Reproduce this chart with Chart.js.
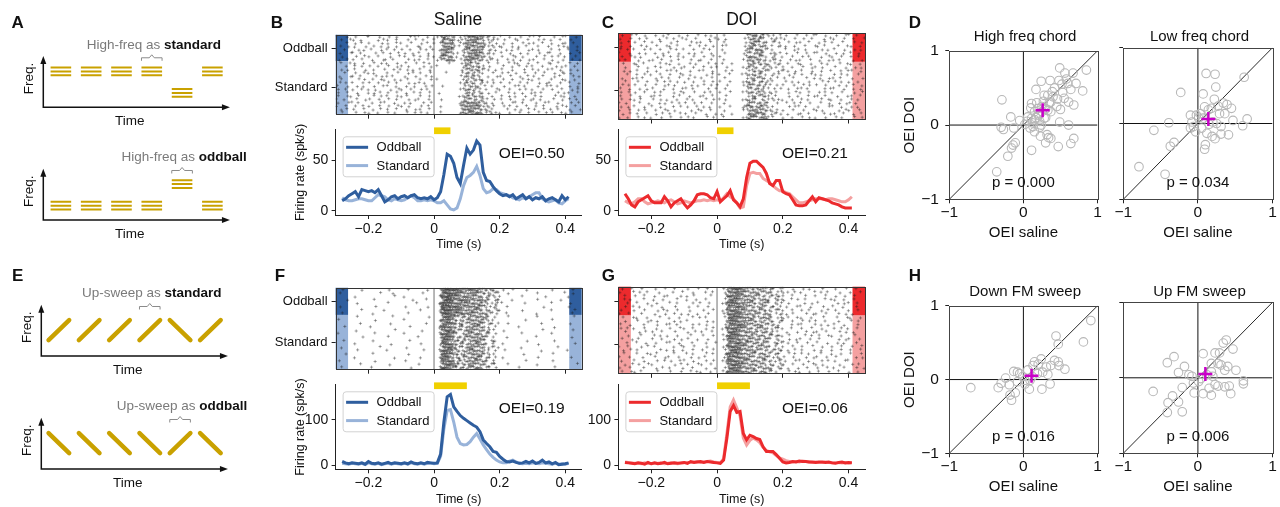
<!DOCTYPE html>
<html><head><meta charset="utf-8">
<script src="https://cdn.jsdelivr.net/npm/chart.js@4.4.1/dist/chart.umd.min.js"></script>
<style>
body{margin:0;background:#fff;}
#fig{position:relative;width:1280px;height:507px;overflow:hidden;font-family:'Liberation Sans',Arial,Helvetica,sans-serif;color:#111;}
#fig canvas{position:absolute;}
.lbl{position:absolute;white-space:nowrap;transform:translate(-50%,-50%);line-height:1;}
</style></head><body><div id="fig"></div>
<script>
// ---- data ----
const psthTime = [-0.28,-0.27,-0.26,-0.25,-0.24,-0.23,-0.22,-0.21,-0.2,-0.19,-0.18,-0.17,-0.16,-0.15,-0.14,-0.13,-0.12,-0.11,-0.1,-0.09,-0.08,-0.07,-0.06,-0.05,-0.04,-0.03,-0.02,-0.01,0,0.01,0.02,0.03,0.04,0.05,0.06,0.07,0.08,0.09,0.1,0.11,0.12,0.13,0.14,0.15,0.16,0.17,0.18,0.19,0.2,0.21,0.22,0.23,0.24,0.25,0.26,0.27,0.28,0.29,0.3,0.31,0.32,0.33,0.34,0.35,0.36,0.37,0.38,0.39,0.4,0.41];
const timeTicks = [-0.2, 0, 0.2, 0.4];

const salineChordOdd = [10,12,15,17,19,14,21,20,19,20, 18,21,15,9,11,14,15,12,14,15, 13,15,16,13,12,13,12,14,11,13, 19,36,56,54,47,33,27,45,62,56, 60,69,65,38,30,29,24,20,17,15, 16,14,16,12,14,16,12,14,11,13, 12,14,10,12,13,11,9,15,11,14];
const salineChordStd = [13,11,10,10,11,12,12,11,10,10, 13,16,15,14,11,10,12,11,10,11, 13,15,13,10,10,11,10,11,10,8, 8,10,6,2,1,3,12,25,33,35, 38,44,35,22,18,19,22,21,18,17, 16,15,13,12,11,13,12,14,16,18, 18,12,10,9,10,11,8,7,10,12];
const doiChordOdd = [17,12,6,4,9,11,13,15,10,8, 8,8,14,10,4,8,10,12,7,3, 6,10,16,17,17,16,13,12,19,9, 12,15,20,11,8,4,12,33,47,49, 49,46,43,37,27,25,30,30,19,17, 16,11,6,5,5,6,10,14,9,13, 12,11,10,8,7,6,4,3,3,3];
const doiChordStd = [10,8,7,9,12,12,9,7,8,9, 10,9,8,10,11,9,7,8,10,9, 8,9,10,10,11,10,11,10,11,10, 13,17,14,12,8,3,4,25,37,38, 37,37,32,30,28,25,22,20,20,18, 17,14,11,8,8,9,10,11,12,12, 12,11,12,12,11,10,9,9,11,14];
const salineFmOdd = [9,6,4,6,5,4,6,3,9,5, 4,6,3,5,7,4,6,5,4,6, 4,8,5,4,6,4,7,6,5,6, 25,95,150,155,128,118,109,103,98,93, 88,84,74,56,48,41,31,29,20,14, 9,8,10,7,5,6,9,6,10,5, 7,12,6,8,4,7,2,3,4,6];
const salineFmStd = [5,4,3,5,4,3,5,2,6,4, 3,5,2,4,5,3,5,4,3,5, 3,6,4,3,5,3,5,5,4,5, 20,80,120,122,95,62,48,45,46,52, 62,70,58,45,35,25,18,12,8,6, 6,10,12,8,5,4,5,4,6,5, 4,6,5,4,3,5,3,4,3,5];
const doiFmOdd = [7,6,5,4,6,5,3,7,4,6, 4,5,7,4,5,6,5,6,7,5, 9,7,8,9,7,9,8,7,6,5, 12,60,118,131,116,118,70,56,66,63, 59,57,41,31,31,31,24,16,8,6, 7,9,8,10,9,9,8,8,7,8, 8,7,8,6,5,7,8,6,7,6];
const doiFmStd = [8,7,6,5,5,4,6,5,4,5, 5,6,4,5,6,5,4,5,6,6, 7,8,9,7,8,9,10,8,7,6, 15,70,128,143,126,108,60,45,55,60, 56,50,40,33,30,28,22,17,14,11, 9,8,9,8,10,9,8,7,8,7, 7,8,7,6,6,7,6,7,6,7];

const oeiValues = [0.50, 0.21, 0.19, 0.06];
const stimChord = [0, 0.05];
const stimFm = [0, 0.1];
const bandSpans = [[-0.3, -0.262], [0.412, 0.45]];

// raster: one string per row of trials, 10 ms bins from -0.3 s
// '.' none, a..j one spike at that ms inside the bin, digit = spike count in bin
const rasterStart = -0.3, rasterBin = 0.01;
const rasterSalineChordOdd = [
"c..f. .b..h a..e. .d.g. ..i.b c..a. .a232 2b.a2 32323 b2.c. c..a. .e..b d.b.. .g..c a..d.",
".e..b a.d.. ..g.c e..b. .h..a .c..f ..323 2.ab2 23322 .c2.a .b..e a..c. .f.b. c..a. .d..h",
"b..g. .c.a. d...e .b.h. a..c. .e.b. b.232 3a.c2 32232 2.b.c .e..a ..d.b f..c. .a..e b.g..",
".a.e. c..h. .b.d. f..a. .c..g b..d. ..322 2.b.3 23223 .b2.e a..d. c.f.. .b..d ..e.a c..b.",
"d..b. ..f.a .c..e .a.d. g..b. .d.a. a.233 2c..2 22332 c.2.b ..f.b .a..d e.c.. .b.g. .d..a",
".c..g a.e.. ..b.d .f..a .a.e. c..b. ..232 2.a.b 32323 .2.a. d..b. .c.e. ..a.f b..d. .e..c",
"a.d.. .g..b e..c. ..a.h .d..b .a.f. b.322 3.b.2 23232 2.c.. .a..e b.d.. .f..a .c.b. a..e.",
".b.f. d..a. .c..g b.e.. ..c.a e..b. .a223 2b.c2 33222 .b2.d ..e.b .d..a c..f. .a..d ..b.e"];
const rasterSalineChordStd = [
".c..a e..b. .d.g. b..e. .a..c .f.b. ....c ...b2 2b2c. .c..a ..e.b a..d. .c..g b.e.. .a.d.",
"b..e. .a.c. g..b. .d..a c.e.. ..b.d .a... ....2 b2c2a c.b.. .d..a .b.e. a..c. ..f.b d..a.",
".d.b. c..g. .a..e ..c.b .e.a. b..c. ..... ...a2 2c2b2 .a.c. b..d. ..a.f .c..b e..a. .b.c.",
"a..c. .f..b d.a.. .b..e ..g.a .c..d ....b ....b 2a2.c b..e. .c.a. e..b. .d..a ..c.g a.b..",
".b..f a.d.. ..c.a e.b.. .a..d ..e.b ..... ...b2 c2b2. .d..b a..c. .b.e. c..a. .g.b. ..d.a",
"c.a.. ..e.b .g..c a..d. b.c.. .a..e .b... ....c 2.2b2 a..c. .e..b ..d.a b.c.. .a..e c..b.",
".e.b. a..d. c..a. .b.f. ..d.b e.a.. ..... ...a2 b2c.2 .c.b. d..a. .c.e. ..b.d a..f. .c..b",
"b..d. .c.a. .e..b d..a. .c.g. ..b.a ..c.. ....b 2c2a. b.c.. .a..d e.b.. .d..a c.b.. .a.e.",
".a.c. e..b. b.d.. ..a.f c..b. .d.a. ..... ...c2 2b2.c .a..e b..c. .d.b. a..e. .c..b ..d.a",
"d..a. .b..e .c.a. e..b. .a.d. c..b. .a... ....2 c2.2b .b.d. ..c.a .e..b c.a.. ..d.b e..c.",
".c..b a.e.. ..b.d .a..c e.b.. .c..a ..... ...b2 2a2c2 c..b. .a.e. b..d. .c.a. ..e.b a..d.",
"b.e.. .d..a c..b. .a.e. ..c.b a..d. ..b.. ....c 2b2.2 .a.c. d..b. ..a.e b.c.. .d..a .b.c.",
".a..d c.b.. .e..a b..c. .d.a. ..b.e ..... ...22 3232b 2c.a. .b..d a.c.. .e..b c..a. ..b.d",
"c..b. .a.d. b..e. .c..a a.d.. .b.c. ..a.. ...23 2323c b2.b. .d.a. c..b. .a.d. ..e.b d..a.",
".d.a. b..c. .a.d. e..b. .c..a d..b. ..... ...32 3222b 2.c.. ..a.d .b.e. c..a. b.d.. .a..c",
"a.c.. .e..b d..a. .b.c. ..a.e .c.b. ..c.. ...22 23232 .b2.a b..c. .d..a ..b.e .c..a d.b.."];
const rasterDoiChordOdd = [
".c..a e..b. .d.g. b..e. .a..c .f.b. ..b.. ....2 23a2b 2.b.c .a..d ..c.e b..a. .d..c a.e..",
"b..e. .a.c. ..b.d .e..a c..b. ..d.a a.c.. ...b2 2b32. .c2.a b..d. .a.e. ..c.b a..d. .b..e",
".a.d. c..b. e..a. .c.b. ..e.a b..c. ..d.. ....a 232b2 c.2.b ..a.d e..b. .c.a. b..e. ..a.c",
"d..b. .e.a. .b..c a.d.. .c..b .a.d. .bc.. ...a2 3b22c .b.2. d..a. .c..e a.b.. .d..b c..a.",
".b.c. a..e. c..b. .d.a. b..d. .e.b. ..a.. ....2 2c32a 2.b.. .c..a b.d.. ..e.b .a..c ..d.b",
"a..d. .c.b. .a.e. b..c. .d.a. c..b. ..c.. ...b2 b223. .c2.a .a..d ..b.e c..a. .b.d. e..a.",
".e..b d.a.. ..c.a .b.e. a..c. .d..b .b... ....2 32b2c b.2.. a..c. .d.b. ..a.e c..b. .a.d.",
"c.a.. .b..d e..b. .a.c. ..b.e a..c. ..a.. ...a2 2b3c2 .b2.c ..d.a b..e. .c..a d.b.. .e..b"];
const rasterDoiChordStd = [
".b..e a.c.. ..d.b c..a. .e.b. ..a.c .c..b ....2 2b2a2 b.c2. .b..d a..c. .e.b. ..a.d c..b.",
"a.d.. .c..b .e.a. ..b.d c..a. .b.e. a..c. ...b2 b2c.2 .2.b. c..a. .d..b a.c.. .b..e ..d.a",
".c.a. b..d. .a..c e.b.. .d..a c..b. ..b.a ....c 2a2b2 c..b2 .a.d. b..e. .c..a ..b.d e..c.",
"d..b. .a.e. c..b. .b..d a.c.. ..d.a .a..c ...a2 c2b2. b.2.c ..e.a .c..b d.a.. .b.c. a..e.",
".a..c e.b.. .d.a. b..e. .c.b. a..d. ..c.. ....b 2b22c .b.c. d..a. ..b.e .c..a b.d.. .a..c",
"b.e.. .c..a ..b.d .a.c. e..b. .d..a .b..c ...c2 b2.2b 2.a.. .c.b. a..d. ..e.b .c.a. d..b.",
".d.b. a..c. .e..b c.a.. ..d.b .a.c. a..b. ...b2 2c2a2 .b.c. a..e. .d.b. c..a. ..b.d .e..a",
"c..a. .b.d. a..e. .d..b b.c.. ..a.d ..b.. ....2 b2c2. c.b.a .d..b c.a.. ..e.b a..c. .b.d.",
".a.e. d..b. .c.a. ..b.c a..d. .e.b. .a..c ...a2 2b2c2 .2.b. ..a.c e..b. .d.a. b..c. ..a.e",
"b..c. .a..e d.b.. .c.a. .b..d c..a. ..c.. ....b 2a22b b.c.. .e..a ..c.b a.d.. .b..c d..a.",
".e..a c.b.. .a.d. b..c. .d.a. ..b.e .b.a. ...c2 c2b.2 .a2.b c..d. .b.a. ..c.e a..b. .d.c.",
"a.c.. .d..b ..e.a .b.d. c..a. b..c. ..a.. ....2 2c2b2 b..c. .a.d. c..b. .e..a ..b.d c.a..",
".b.d. a..c. e..b. ..a.c .d..b .c.a. .b..c ...22 3b23c 2.b.. ..d.a b.c.. .a..e d..b. .c.a.",
"c..e. .b.a. .d..c a.b.. ..c.d b..a. ..c.. ...a2 23c22 b2.c. a..b. .d..e c.a.. ..b.c a..d.",
".a.b. d..c. .b.a. c..e. a..b. .d..c .a..b ....3 2323b .c2.a .b..d a.e.. ..c.b d..a. .b.e.",
"e..a. .c.b. a..d. .b..c .e.a. ..c.b ..b.. ...b2 32c23 2.b.. c..a. .b.d. a..c. .e.b. ..a.d"];
const rasterSalineFmOdd = [
"..c.. ...a. ..... .d... ..b.. ...a. ..355 44333 33232 2a2b. .b..a ...c. ..... .a... ..d..",
".a... ..... ...d. ..b.. ..... .c... ..454 34332 23322 a2.2b ..c.. ..... .b... ....e ..a..",
"..... .b... ..... ...c. .a... ..... ..545 43323 32223 .2a2. b.... ..a.. ....c ..... .b...",
"...b. ..... .c... ..... ...a. ..b.. ..355 33433 23232 2b.2a ...c. ..... .a... ...b. .....",
"..... ..a.. ..... .e... ..... b.... ..454 43332 32322 a2.b2 .a... ...b. ..... .c... ..a..",
".d... ..... ..b.. ..... .c... ...a. ..545 34323 32232 2.a2. ..b.. ..... ...d. ..... .a...",
"..... ...c. ..... a.... ..... .b... ..355 43432 22323 .2b.2 b.... ..c.. ..... .a... ...c.",
"..a.. ..... .d... ..... ..b.. ..... ..454 33342 33222 2a2.b ..a.. ..... .c... ..... ..b.."];
const rasterSalineFmStd = [
"..... .c... ..... ..a.. ..... ...b. ..344 32b2a 22322 2a.b. ..c.. ..... .a... ..... ..d..",
".b... ..... ..d.. ..... .a... ..... ..434 22a2b 23222 b2.a. ..... ...b. ..... .c... .....",
"..... ..a.. ..... .c... ..... ..b.. ..344 3b2a2 22232 .2b.a ..a.. ..... ..c.. ..... .a...",
"...c. ..... .a... ..... ...b. ..... ..443 32a2b 22322 2.a.b ..... .c... ..... ..b.. .....",
"..... .b... ..... ...a. ..... .c... ..344 2a2b2 32222 b2.a. .b... ..... ...a. ..... ..c..",
".a... ..... ..c.. ..... .b... ..... ..434 32b.2 22232 .2a.b ..... ..a.. ..... .b... .....",
"..... ...d. ..... .a... ..... b.... ..344 3a2b2 23222 2b.a. ..c.. ..... .b... ..... ..a..",
"..b.. ..... .a... ..... ..c.. ..... ..443 22a2b 22322 a.2b. ..... ...a. ..... .d... .....",
"..... .a... ..... ..b.. ..... .c... ..344 32b2a 22232 2a.b. .b... ..... ..a.. ..... ...c.",
".c... ..... ...a. ..... .b... ..... ..434 2a2b2 32222 .b2.a ..... .a... ..... ..c.. .....",
"..... ..b.. ..... .a... ..... ..d.. ..344 3b2a2 22322 2.a.b ..a.. ..... ...b. ..... .a...",
"...a. ..... .c... ..... ..b.. ..... ..443 32a2b 23222 b2.a. ..... ..c.. ..... .b... .....",
"..... .a... ..... ...c. ..... .b... ..344 2b2a2 22232 .2b.a .c... ..... ..a.. ..... ..b..",
".b... ..... ..a.. ..... .d... ..... ..434 3a2b2 22322 2a.b. ..... ...a. ..... .c... .....",
"..... ..c.. ..... .b... ..... a.... ..344 32b2a 32222 b.2a. ..b.. ..... .a... ..... ...d.",
"..a.. ..... .b... ..... ...c. ..... ..443 22a2b 22232 .2a.b ..... .b... ..... ..a.. ....."];
const rasterDoiFmOdd = [
".c..a ..b.. .d..c ..a.. .b..d ..a.. ..a34 44322 2b222 b2a.2 a..b. .c.a. ..b.. .a..d ..c..",
"a...c .b.d. ..a.. .c..b ..d.. .b.c. ..b43 43322 22b22 2a.b2 .b.c. a...d .c.b. ..a.. b..c.",
"..b.. d..a. .c..b a...c .a.b. ...d. ...44 34232 222b2 .2b2a c..a. ..b.. a..c. .d..b ..a..",
".d.a. ..c.. b..a. ..d.. c..b. .a... ..a34 43222 2a222 b.2a2 ..b.a .c... ..d.b c..a. .b...",
"b..c. .a..d ..b.. .a.c. ...b. c..a. ..b44 44232 22a22 2b.2. a.c.. ..b.d .a... ..c.b d..a.",
"..a.d .c... a..b. ..c.. .d..a ..b.. ...43 34322 2b222 .2a.b .a..c b..d. ..c.. a..b. ..d..",
".b... a..c. ..d.a b..c. ..a.. .c..b ..a34 43232 22b22 a2.2b c..b. .a.c. ..b.a .d... c..b.",
"c..b. ..a.. .b..d ..a.b .c..a ..d.. ..b43 44322 222a2 2b.a2 .b.a. ..c.d a..b. ..a.c .b..."];
const rasterDoiFmStd = [
".a..c b..d. ..c.. a..b. ..c.d .b... ..a44 44322 2b222 2a.b2 .c..a b..c. ..a.. .b..d a..c.",
"..d.. .a..c b.a.. ..c.b .a... ..c.a ...34 44232 22a22 .2b.2 a..b. .c.d. b..a. ..c.. .a.b.",
"b..a. ..c.. .d..b a.c.. ..b.a .d... ..b44 34322 222b2 b2.a. ..c.b a...d .b.c. a..b. ..d..",
".c.b. a..d. ..a.. .b..c d..a. ..b.c ..a43 44322 2a222 2.b2a c..a. .b..c ..d.. .a.c. b..a.",
"..a.. .d.b. c..a. ..b.. .a.c. b..d. ...44 43232 22b22 a2.b. .b..d ..a.c b..a. ..c.b .d...",
"a..d. ..b.. .c.a. b..c. ..d.. .a..b ..b34 44322 2b222 .2a2b a.c.. ..b.a .d..c b..a. ..c..",
".b..c .a... d..b. ..a.c .b..a ..c.. ..a44 34222 222a2 2b.2. ..a.b c..d. .a... ..b.c a..d.",
"..c.. b..a. .a..d c..b. ..a.. .d..c ...43 44232 22b22 b.2a2 .c..a ..b.. a..c. .d.b. ..a..",
"d..a. ..c.b .b... ..a.d a..c. ..b.. ..b44 43322 2a222 2b.a. b..c. .a..d ..c.. b..a. .d..c",
".a.c. b.... ..d.b .c..a ..b.. a..d. ..a34 44232 222b2 .2b2a .a.b. c...a .b..d ..c.. a..b.",
"..b.. .a..c c.a.. ..d.. .b.a. ..c.b ...44 34322 22a22 a2.2b ..d.a .b.c. ..a.. c..b. .a..d",
"b..c. ..d.. .a..b a..c. ..a.d .b... ..b43 44322 2b222 2.a2. c..b. ..a.d b..c. .a... ..c.b",
".c... a..b. ..b.d .d..a c..b. ..a.c ..a44 43232 222b2 b2.a2 .a..c d..b. ..c.a .b..d a....",
"..a.d .c..b b.... ..c.a .a..d c..b. ...34 44322 22a22 .2b.2 b..a. .c..d a.b.. ..d.. .c.a.",
"a..b. ..d.. .c.a. b...c ..b.. .d..a ..b44 34232 2a222 2a.2b .c..d ..a.. c..b. a..c. ..b.d",
".d..c b.a.. ..b.. .a..d ..c.a b..c. ..a43 44322 22b22 a2.b. ..b.a c..d. .a..c ..b.. d..a."];
const rasterRowLabels = ['Oddball', 'Standard'];

// scatter: [OEI saline, OEI DOI] per neuron
const hfChordPts = [[-0.29,0.34],[-0.17,0.11],[-0.30,-0.03],[-0.27,-0.06],[-0.13,-0.04],[-0.05,0.06],[-0.11,-0.24],[-0.14,-0.27],[-0.16,-0.31],[-0.21,-0.42],[-0.36,-0.63],[0.11,-0.34],[0.15,-0.09],[0.23,-0.15],[0.32,-0.13],[0.34,-0.17],[0.30,-0.24],[0.37,-0.18],[0.47,-0.29],[0.64,-0.25],[0.68,-0.18],[0.49,0.04],[0.24,0.59],[0.36,0.60],[0.17,0.48],[0.49,0.77],[0.56,0.70],[0.67,0.70],[0.71,0.56],[0.85,0.74],[0.80,0.46],[0.48,0.60],[0.60,0.56],[0.64,0.48],[0.53,0.44],[0.39,0.45],[0.46,0.35],[0.55,0.36],[0.61,0.31],[0.68,0.27],[0.50,0.21],[0.37,0.31],[0.33,0.40],[0.27,0.32],[0.11,0.29],[0.10,0.23],[0.15,0.18],[0.20,0.13],[0.11,0.09],[0.06,0.11],[0.15,0.07],[0.22,0.05],[0.28,0.09],[0.37,0.18],[0.45,0.25],[0.33,0.20],[0.13,-0.02],[0.22,-0.03],[0.09,-0.04],[0.02,0.01],[0.61,0.00],[0.25,0.18],[0.19,0.22],[0.20,0.15],[0.25,0.25],[0.30,0.22],[0.18,0.30],[0.35,0.30],[0.40,0.38],[0.28,0.40],[0.42,0.50],[0.52,0.55],[0.58,0.62],[0.12,0.03],[0.05,0.05],[0.17,0.10],[0.30,0.10],[0.24,0.00]];
const lfChordPts = [[-0.79,-0.57],[-0.59,-0.09],[-0.44,-0.67],[-0.37,-0.30],[-0.32,-0.25],[-0.39,0.01],[-0.23,0.41],[-0.10,0.11],[-0.08,0.02],[-0.06,-0.04],[-0.10,-0.06],[-0.02,0.11],[0.07,0.39],[0.11,0.66],[0.23,0.65],[0.24,0.48],[0.22,0.32],[0.09,0.22],[0.14,0.18],[0.18,0.20],[0.27,0.23],[0.34,0.27],[0.39,0.25],[0.45,0.20],[0.29,0.13],[0.36,0.13],[0.47,0.04],[0.60,-0.03],[0.66,0.06],[0.62,0.61],[0.41,-0.15],[0.31,-0.14],[0.23,-0.20],[0.19,-0.17],[0.12,-0.13],[0.05,-0.06],[0.10,-0.28],[0.09,-0.34],[0.01,0.07],[0.03,0.13],[0.07,0.07],[0.20,0.02],[0.25,0.00],[0.15,-0.01],[0.31,-0.04],[-0.03,-0.11]];
const downFmPts = [[-0.71,-0.11],[-0.34,-0.11],[-0.30,-0.05],[-0.24,0.02],[-0.19,-0.07],[-0.13,0.11],[-0.08,0.10],[-0.05,0.08],[-0.18,-0.21],[-0.16,-0.28],[-0.11,-0.18],[-0.08,-0.03],[-0.01,0.04],[0.06,0.13],[0.13,0.19],[0.20,0.21],[0.24,0.28],[0.15,0.24],[0.31,0.17],[0.37,0.19],[0.44,0.59],[0.47,0.48],[0.42,0.26],[0.47,0.24],[0.48,0.19],[0.56,0.14],[0.81,0.51],[0.91,0.80],[0.36,-0.06],[0.25,-0.13],[0.08,-0.13],[0.02,-0.06],[0.19,0.08],[0.33,0.07],[0.09,-0.01],[0.02,-0.01],[0.12,0.04],[0.26,0.10]];
const upFmPts = [[-0.60,-0.18],[-0.41,0.20],[-0.32,0.28],[-0.34,-0.24],[-0.40,-0.33],[-0.41,-0.46],[-0.21,-0.45],[-0.26,-0.32],[-0.21,-0.13],[-0.26,0.07],[-0.18,0.15],[-0.12,0.04],[-0.08,0.02],[-0.06,-0.07],[-0.05,-0.20],[0.07,0.32],[0.07,-0.21],[0.18,-0.23],[0.15,-0.14],[0.23,-0.09],[0.27,-0.11],[0.36,-0.12],[0.42,-0.11],[0.44,-0.21],[0.18,0.19],[0.23,0.33],[0.29,0.33],[0.34,0.46],[0.38,0.50],[0.47,0.38],[0.40,0.15],[0.51,0.10],[0.61,-0.04],[0.61,-0.08],[0.31,0.17],[0.27,0.19],[0.18,0.08],[0.12,0.04],[0.20,0.02],[0.04,-0.01],[0.01,-0.05],[0.36,0.10]];
const scatterMeans = [[0.26, 0.20], [0.14, 0.06], [0.11, 0.05], [0.10, 0.05]];
const pValues = [0.000, 0.034, 0.016, 0.006];
const scatterTitles = ['High freq chord', 'Low freq chord', 'Down FM sweep', 'Up FM sweep'];
const unityLine = [[-1, -1], [1, 1]];
const oeiTicks = [-1, 0, 1];

// schematic stimulus sequences
const toneOnsets = [0, 1, 2, 3, 4, 5];
const chordStdSeq = ['high', 'high', 'high', 'high', 'low', 'high'];
const chordOddSeq = ['low', 'low', 'low', 'low', 'high', 'low'];
const sweepStdSeq = ['up', 'up', 'up', 'up', 'down', 'up'];
const sweepOddSeq = ['down', 'down', 'down', 'down', 'up', 'down'];

// ---- styling / layout ----
const FONT = "'Liberation Sans', Arial, Helvetica, sans-serif";
Chart.defaults.font.family = FONT;
Chart.defaults.color = '#111';
const BLUE = '#2f5e9e', BLUE_L = '#98b3d9', RED = '#ec2a2d', RED_L = '#f4a0a0';
const GOLD = '#c9a100';
const fig = document.getElementById('fig');

function frameBox(a, m) {
    const x0 = Math.floor(a.l - m.l), y0 = Math.floor(a.t - m.t);
    const x1 = Math.ceil(a.r + m.r), y1 = Math.ceil(a.b + m.b);
    return {x: x0, y: y0, w: x1 - x0, h: y1 - y0, left: a.l - x0, top: a.t - y0, right: x1 - a.r, bottom: y1 - a.b};
}

function addCanvas(b) {
    const c = document.createElement('canvas');
    c.width = b.w; c.height = b.h;
    c.style.left = b.x + 'px'; c.style.top = b.y + 'px';
    c.style.width = b.w + 'px'; c.style.height = b.h + 'px';
    fig.appendChild(c);
    return c;
}

function addText(txt, x, y, size, extra) {
    const d = document.createElement('div');
    d.className = 'lbl';
    d.textContent = txt;
    d.style.left = x + 'px'; d.style.top = y + 'px'; d.style.fontSize = size + 'px';
    if (extra) Object.assign(d.style, extra);
    fig.appendChild(d);
}

const minus = v => (v < 0 ? '\u2212' : '') + Math.abs(v);
const setTicks = vals => s => { s.ticks = vals.map(v => ({value: v})); };
const tickGrid = {display: true, drawOnChartArea: false, drawTicks: true, tickLength: 4, tickWidth: 1, tickColor: '#222', color: '#222'};
const baseOpts = {responsive: false, animation: false, devicePixelRatio: 1, events: []};

function framePlugin(color) {
    return {id: 'frame', afterDatasetsDraw(chart) {
        const {ctx, chartArea: a} = chart;
        const l = Math.round(a.left) + 0.5, t = Math.round(a.top) + 0.5;
        ctx.save(); ctx.strokeStyle = color; ctx.lineWidth = 1;
        ctx.strokeRect(l, t, Math.round(a.right) - Math.round(a.left), Math.round(a.bottom) - Math.round(a.top));
        ctx.restore();
    }};
}

function bandsPlugin(spans, splitRow, dark, light) {
    return {id: 'bands', beforeDatasetsDraw(chart) {
        const {ctx, scales: {x, y}} = chart;
        ctx.save();
        spans.forEach(([t0, t1]) => {
            const x0 = x.getPixelForValue(t0), x1 = x.getPixelForValue(t1);
            const yt = y.getPixelForValue(y.min), ys = y.getPixelForValue(splitRow), yb = y.getPixelForValue(y.max);
            ctx.fillStyle = dark; ctx.fillRect(x0, yt, x1 - x0, ys - yt);
            ctx.fillStyle = light; ctx.fillRect(x0, ys, x1 - x0, yb - ys);
        });
        ctx.restore();
    }};
}

function stimPlugin(stim) {
    return {id: 'stim', afterDraw(chart) {
        const {ctx, chartArea: a, scales: {x}} = chart;
        const x0 = x.getPixelForValue(stim[0]), x1 = x.getPixelForValue(stim[1]);
        ctx.save(); ctx.fillStyle = '#f0d000';
        ctx.fillRect(x0, a.top - 2.4, x1 - x0, 6.7);
        ctx.restore();
    }};
}

function legendPlugin() {
    return {id: 'boxLegend', afterDraw(chart) {
        const {ctx, chartArea: a} = chart;
        const items = chart.data.datasets.filter(d => d.label);
        const x = a.left + 7, y = a.top + 6.5, w = 91, h = 40;
        ctx.save();
        ctx.beginPath();
        ctx.roundRect(x + 0.5, y + 0.5, w, h, 3);
        ctx.fillStyle = 'rgba(255,255,255,0.85)'; ctx.fill();
        ctx.strokeStyle = '#d2d2d2'; ctx.lineWidth = 1; ctx.stroke();
        ctx.font = '13px ' + FONT; ctx.textBaseline = 'middle'; ctx.textAlign = 'left';
        items.forEach((it, i) => {
            const yy = y + 11 + i * 18.3;
            ctx.strokeStyle = it.borderColor; ctx.lineWidth = 3;
            ctx.beginPath(); ctx.moveTo(x + 3.5, yy); ctx.lineTo(x + 25.5, yy); ctx.stroke();
            ctx.fillStyle = '#111'; ctx.fillText(it.label, x + 34, yy + 0.5);
        });
        ctx.restore();
    }};
}

function notesPlugin(items) {
    return {id: 'notes', afterDraw(chart) {
        const {ctx, chartArea: a, scales} = chart;
        ctx.save(); ctx.fillStyle = '#111'; ctx.textAlign = 'center'; ctx.textBaseline = 'middle';
        items.forEach(it => {
            ctx.font = it.font;
            const px = it.fx !== undefined ? a.left + it.fx * (a.right - a.left) : scales.x.getPixelForValue(it.x);
            const py = it.fy !== undefined ? a.top + it.fy * (a.bottom - a.top) : scales.y.getPixelForValue(it.y);
            ctx.fillText(it.text, px, py);
        });
        ctx.restore();
    }};
}

// decode the raster strings into spike marks; the small fixed shifts only keep
// rows from lining up into columns
function spikesFrom(rows) {
    const jitter = [-0.28, 0.22, 0.02, 0.34, -0.14];
    const rowShift = [0, 0.37, -0.21, 0.52, -0.44, 0.13, -0.3];
    const pts = [];
    rows.forEach((row, r) => {
        const sh = rowShift[r % rowShift.length] * rasterBin;
        row.split(' ').forEach((grp, gi) => {
            for (let ci = 0; ci < 5 && ci < grp.length; ci++) {
                const ch = grp[ci], j = gi * 5 + ci;
                if (ch === '.') continue;
                const t0 = rasterStart + j * rasterBin + sh;
                if (ch >= 'a' && ch <= 'j') {
                    pts.push({x: t0 + rasterBin * (ch.charCodeAt(0) - 97 + 0.5) / 10, y: r + 0.5 + jitter[(j + r) % 5] * 0.7});
                } else {
                    const n = +ch;
                    for (let k = 0; k < n; k++) pts.push({x: t0 + rasterBin * (k + 0.5) / n, y: r + 0.5 + jitter[(k + j + r) % 5]});
                }
            }
        });
    });
    return pts.filter(p => p.x > rasterStart && p.x < 0.45);
}

function rasterChart(area, oddRows, stdRows, dark, light, showLabels) {
    const nOdd = oddRows.length, nRows = oddRows.length + stdRows.length;
    const rowTicks = [nOdd / 2, nOdd + stdRows.length / 2];
    const b = frameBox(area, {l: 62, t: 10, r: 6, b: 7});
    new Chart(addCanvas(b), {
        type: 'scatter',
        data: {datasets: [
            {data: spikesFrom(oddRows.concat(stdRows)), pointStyle: 'cross', pointRadius: 1.6, pointBorderWidth: 0.9, borderWidth: 0.9, pointBorderColor: 'rgba(30,30,30,0.42)', borderColor: 'rgba(30,30,30,0.42)'},
            {type: 'line', data: [{x: 0, y: 0}, {x: 0, y: nRows}], borderColor: 'rgba(150,150,150,0.9)', borderWidth: 1.5, pointRadius: 0}
        ]},
        options: Object.assign({}, baseOpts, {
            layout: {padding: {left: 0, top: b.top, right: b.right, bottom: 0}},
            scales: {
                x: {type: 'linear', min: -0.3, max: 0.45, afterBuildTicks: setTicks(timeTicks), afterFit: s => { s.height = b.bottom; },
                    ticks: {display: false}, grid: Object.assign({}, tickGrid, {tickLength: 4.5}), border: {display: false}},
                y: {type: 'linear', min: 0, max: nRows, reverse: true, afterBuildTicks: setTicks(rowTicks), afterFit: s => { s.width = b.left; },
                    ticks: {display: showLabels, padding: 4, font: {size: 13}, callback: (v, i) => rasterRowLabels[i]},
                    grid: tickGrid, border: {display: false}}
            },
            plugins: {legend: {display: false}, tooltip: {enabled: false}}
        }),
        plugins: [bandsPlugin(bandSpans, nOdd, dark, light), framePlugin('#333')]
    });
}

function psthChart(area, yRange, yTicks, odd, std, colors, stim, oei, showTitle) {
    const b = frameBox(area, {l: 42.2, t: 10, r: 8, b: 37});
    const pts = vals => psthTime.map((t, i) => ({x: t, y: vals[i]}));
    new Chart(addCanvas(b), {
        type: 'line',
        data: {datasets: [
            {label: 'Oddball', data: pts(odd), borderColor: colors[0], borderWidth: 3, pointRadius: 0, tension: 0},
            {label: 'Standard', data: pts(std), borderColor: colors[1], borderWidth: 3, pointRadius: 0, tension: 0}
        ]},
        options: Object.assign({}, baseOpts, {
            layout: {padding: {left: 0, top: b.top, right: b.right, bottom: 0}},
            scales: {
                x: {type: 'linear', min: -0.3, max: 0.45, afterBuildTicks: setTicks(timeTicks), afterFit: s => { s.height = b.bottom; },
                    ticks: {padding: 1.6, font: {size: 14}, maxRotation: 0, callback: v => minus(v.toFixed(1)) },
                    grid: tickGrid, border: {display: true, color: '#222', width: 1},
                    title: {display: true, text: 'Time (s)', font: {size: 12.5}, padding: 0}},
                y: {type: 'linear', min: yRange[0], max: yRange[1], afterBuildTicks: setTicks(yTicks), afterFit: s => { s.width = b.left; },
                    ticks: {padding: 3.4, font: {size: 14}},
                    grid: tickGrid, border: {display: true, color: '#222', width: 1},
                    title: {display: showTitle, text: 'Firing rate (spk/s)', font: {size: 12.5}, padding: 0}}
            },
            plugins: {legend: {display: false}, tooltip: {enabled: false}}
        }),
        plugins: [stimPlugin(stim), legendPlugin(), notesPlugin([{text: 'OEI=' + oei.toFixed(2), fx: 0.797, fy: 0.28, font: '15.5px ' + FONT}])]
    });
}

function scatterChart(area, pts, mean, p, withY) {
    const b = frameBox(area, {l: withY ? 48.3 : 22, t: 12, r: 6, b: 42});
    const line = arr => arr.map(q => ({x: q[0], y: q[1]}));
    new Chart(addCanvas(b), {
        type: 'scatter',
        data: {datasets: [
            {data: [{x: mean[0], y: mean[1]}], pointStyle: 'cross', pointRadius: 7, pointBorderWidth: 2.5, borderWidth: 2.5, pointBorderColor: '#c800c8', borderColor: '#c800c8'},
            {data: line(pts), pointStyle: 'circle', pointRadius: 4.3, pointBorderWidth: 1.1, borderWidth: 1.1, pointBorderColor: '#b8b8b8', borderColor: '#b8b8b8', pointBackgroundColor: 'rgba(0,0,0,0)', backgroundColor: 'rgba(0,0,0,0)'},
            {type: 'line', data: line(unityLine), borderColor: '#111', borderWidth: 0.9, pointRadius: 0},
            {type: 'line', data: [{x: oeiTicks[0], y: 0}, {x: oeiTicks[2], y: 0}], borderColor: '#111', borderWidth: 1, pointRadius: 0},
            {type: 'line', data: [{x: 0, y: oeiTicks[0]}, {x: 0, y: oeiTicks[2]}], borderColor: '#111', borderWidth: 1, pointRadius: 0}
        ]},
        options: Object.assign({}, baseOpts, {
            layout: {padding: {left: 0, top: b.top, right: b.right, bottom: 0}},
            scales: {
                x: {type: 'linear', min: -1, max: 1, afterBuildTicks: setTicks(oeiTicks), afterFit: s => { s.height = b.bottom; },
                    ticks: {padding: 0.5, font: {size: 15.5}, maxRotation: 0, callback: v => minus(v)},
                    grid: tickGrid, border: {display: false},
                    title: {display: true, text: 'OEI saline', font: {size: 15}, padding: 0}},
                y: {type: 'linear', min: -1, max: 1, afterBuildTicks: setTicks(oeiTicks), afterFit: s => { s.width = b.left; },
                    ticks: {display: withY, padding: 6.5, font: {size: 15.5}, callback: v => minus(v)},
                    grid: tickGrid, border: {display: false},
                    title: {display: withY, text: 'OEI DOI', font: {size: 15}, padding: 0}}
            },
            plugins: {legend: {display: false}, tooltip: {enabled: false}}
        }),
        plugins: [framePlugin('#444'), notesPlugin([{text: 'p = ' + p.toFixed(3), x: 0, y: -0.78, font: '15px ' + FONT}])]
    });
}

// schematic of stimulus sequences
const toneLead = 0.24, toneDur = 0.68;
const chordLevel = {low: 0.28, high: 0.70}, chordSpread = [-0.076, 0, 0.076];
const sweepLevel = {low: 0.31, high: 0.70};

function chordPoints(seq) {
    const pts = [];
    seq.forEach((lvl, i) => chordSpread.forEach(d => {
        const y = chordLevel[lvl] + d, x0 = toneOnsets[i] + toneLead;
        pts.push({x: x0, y: y}, {x: x0 + toneDur, y: y}, {x: x0 + toneDur, y: null});
    }));
    return pts;
}
function sweepPoints(seq) {
    const pts = [];
    seq.forEach((dir, i) => {
        const x0 = toneOnsets[i] + toneLead;
        const a = dir === 'up' ? sweepLevel.low : sweepLevel.high, z = dir === 'up' ? sweepLevel.high : sweepLevel.low;
        pts.push({x: x0, y: a}, {x: x0 + toneDur, y: z}, {x: x0 + toneDur, y: null});
    });
    return pts;
}

function sketchPlugin(cfg) {
    return {id: 'sketch', afterDatasetsDraw(chart) {
        const {ctx, scales: {x, y}} = chart;
        const X = v => x.getPixelForValue(v), Y = v => y.getPixelForValue(v);
        const ox = X(0), oy = Y(0), ty = Y(1.0), rx = X(6.16);
        ctx.save();
        ctx.strokeStyle = '#111'; ctx.fillStyle = '#111'; ctx.lineWidth = 1.5;
        ctx.beginPath(); ctx.moveTo(ox, ty + 6); ctx.lineTo(ox, oy); ctx.lineTo(rx - 6, oy); ctx.stroke();
        ctx.beginPath(); ctx.moveTo(ox, ty); ctx.lineTo(ox - 3, ty + 8); ctx.lineTo(ox + 3, ty + 8); ctx.closePath(); ctx.fill();
        ctx.beginPath(); ctx.moveTo(rx, oy); ctx.lineTo(rx - 8, oy - 3); ctx.lineTo(rx - 8, oy + 3); ctx.closePath(); ctx.fill();
        // brace over the marked tone
        const i = cfg.mark, bx0 = X(toneOnsets[i] + toneLead), bx1 = X(toneOnsets[i] + toneLead + toneDur), by = Y(0.965), bm = (bx0 + bx1) / 2;
        ctx.strokeStyle = '#8a8a8a'; ctx.lineWidth = 1;
        ctx.beginPath(); ctx.moveTo(bx0, by + 3); ctx.lineTo(bx0, by); ctx.lineTo(bm - 2.5, by); ctx.lineTo(bm, by - 3);
        ctx.lineTo(bm + 2.5, by); ctx.lineTo(bx1, by); ctx.lineTo(bx1, by + 3); ctx.stroke();
        // caption
        const f1 = '13.5px ' + FONT, f2 = 'bold 13.5px ' + FONT;
        ctx.textBaseline = 'middle'; ctx.textAlign = 'left';
        ctx.font = f1; const w1 = ctx.measureText(cfg.caption[0]).width;
        ctx.font = f2; const w2 = ctx.measureText(cfg.caption[1]).width;
        const cx = X(toneOnsets[i] + toneLead + toneDur / 2) + 2 - (w1 + w2) / 2, cy = Y(1.215);
        ctx.font = f1; ctx.fillStyle = '#7a7a7a'; ctx.fillText(cfg.caption[0], cx, cy);
        ctx.font = f2; ctx.fillStyle = '#111'; ctx.fillText(cfg.caption[1], cx + w1, cy);
        // axis names
        ctx.font = '13.5px ' + FONT; ctx.fillStyle = '#111'; ctx.textAlign = 'center';
        ctx.fillText('Time', X(2.85), Y(-0.27));
        ctx.translate(X(-0.47), Y(0.56)); ctx.rotate(-Math.PI / 2); ctx.fillText('Freq.', 0, 0);
        ctx.restore();
    }};
}

function sketchChart(origin, pts, width, cap, cap2, mark) {
    const ux = 30.3, uy = 51.3;
    const b = {x: 4, y: Math.floor(origin[1] - 1.45 * uy), w: 246, h: 0};
    b.h = Math.ceil(origin[1] + 0.5 * uy) - b.y;
    new Chart(addCanvas(b), {
        type: 'line',
        data: {datasets: [{data: pts, borderColor: GOLD, borderWidth: width, borderCapStyle: width > 3 ? 'round' : 'butt', pointRadius: 0, spanGaps: false}]},
        options: Object.assign({}, baseOpts, {
            layout: {padding: 0},
            scales: {
                x: {type: 'linear', display: false, min: (b.x - origin[0]) / ux, max: (b.x + b.w - origin[0]) / ux},
                y: {type: 'linear', display: false, min: (origin[1] - b.y - b.h) / uy, max: (origin[1] - b.y) / uy}
            },
            plugins: {legend: {display: false}, tooltip: {enabled: false}}
        }),
        plugins: [sketchPlugin({caption: [cap, cap2], mark: mark})]
    });
}

// ---- build figure ----
sketchChart([43.3, 107.3], chordPoints(chordStdSeq), 2, 'High-freq as ', 'standard', 3);
sketchChart([43.3, 220], chordPoints(chordOddSeq), 2, 'High-freq as ', 'oddball', 4);
sketchChart([41.3, 356], sweepPoints(sweepStdSeq), 4.5, 'Up-sweep as ', 'standard', 3);
sketchChart([41.3, 469], sweepPoints(sweepOddSeq), 4.5, 'Up-sweep as ', 'oddball', 4);

const colL = {l: 335.6, r: 581.7}, colR = {l: 618.4, r: 865};
rasterChart({l: colL.l, r: colL.r, t: 33.3, b: 119}, rasterSalineChordOdd, rasterSalineChordStd, BLUE, BLUE_L, true);
rasterChart({l: colR.l, r: colR.r, t: 33.3, b: 119}, rasterDoiChordOdd, rasterDoiChordStd, RED, RED_L, false);
rasterChart({l: colL.l, r: colL.r, t: 286.7, b: 373.3}, rasterSalineFmOdd, rasterSalineFmStd, BLUE, BLUE_L, true);
rasterChart({l: colR.l, r: colR.r, t: 286.7, b: 373.3}, rasterDoiFmOdd, rasterDoiFmStd, RED, RED_L, false);

psthChart({l: colL.l, r: colL.r, t: 128.2, b: 215}, [-4, 80], [0, 50], salineChordOdd, salineChordStd, [BLUE, BLUE_L], stimChord, oeiValues[0], true);
psthChart({l: colR.l, r: colR.r, t: 128.2, b: 215}, [-4, 80], [0, 50], doiChordOdd, doiChordStd, [RED, RED_L], stimChord, oeiValues[1], false);
psthChart({l: colL.l, r: colL.r, t: 383.3, b: 469.3}, [-8, 176], [0, 100], salineFmOdd, salineFmStd, [BLUE, BLUE_L], stimFm, oeiValues[2], true);
psthChart({l: colR.l, r: colR.r, t: 383.3, b: 469.3}, [-8, 176], [0, 100], doiFmOdd, doiFmStd, [RED, RED_L], stimFm, oeiValues[3], false);

const scL = {l: 949.3, r: 1101}, scR = {l: 1123.3, r: 1275.7};
scatterChart({l: scL.l, r: scL.r, t: 47.7, b: 199.3}, hfChordPts, scatterMeans[0], pValues[0], true);
scatterChart({l: scR.l, r: scR.r, t: 47.7, b: 199.3}, lfChordPts, scatterMeans[1], pValues[1], false);
scatterChart({l: scL.l, r: scL.r, t: 302.3, b: 453.3}, downFmPts, scatterMeans[2], pValues[2], true);
scatterChart({l: scR.l, r: scR.r, t: 302.3, b: 453.3}, upFmPts, scatterMeans[3], pValues[3], false);

// titles and panel letters
addText('Saline', 458, 19.5, 17.5);
addText('DOI', 741.7, 19.5, 17.5);
addText(scatterTitles[0], (scL.l + scL.r) / 2, 34.5, 15);
addText(scatterTitles[1], (scR.l + scR.r) / 2, 34.5, 15);
addText(scatterTitles[2], (scL.l + scL.r) / 2, 289.5, 15);
addText(scatterTitles[3], (scR.l + scR.r) / 2, 289.5, 15);
const letterSpots = [['A', 17.7, 21.7], ['B', 277, 21.7], ['C', 608, 21.7], ['D', 915, 21.7],
                     ['E', 17.7, 275], ['F', 280, 275], ['G', 608.3, 275], ['H', 915, 275]];
letterSpots.forEach(([t, x, y]) => addText(t, x, y, 17, {fontWeight: 'bold'}));
</script></body></html>
